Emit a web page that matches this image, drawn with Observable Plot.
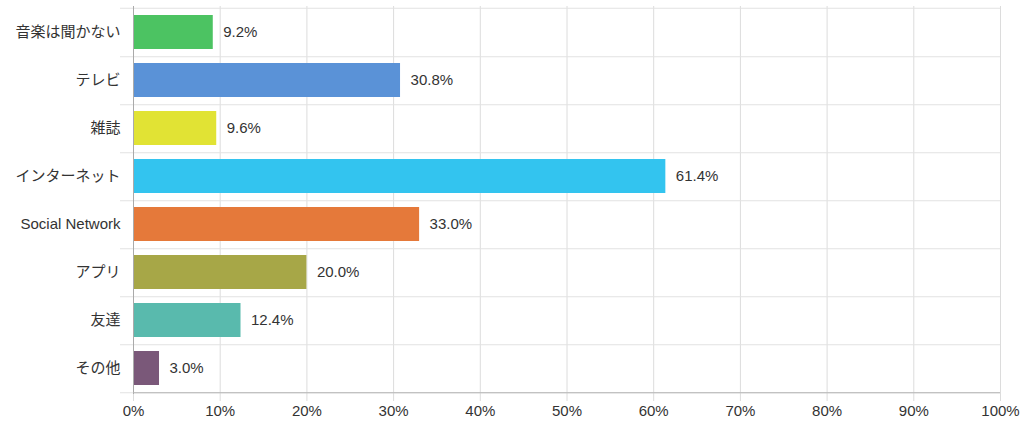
<!DOCTYPE html>
<html>
<head>
<meta charset="utf-8">
<script src="https://cdn.jsdelivr.net/npm/d3@7"></script>
<script src="https://cdn.jsdelivr.net/npm/@observablehq/plot@0.6"></script>
<style>
  html, body { margin: 0; padding: 0; background: #fff; }
  #chart svg { display: block; }
</style>
</head>
<body>
<div id="chart"></div>
<script>
const categories = ["音楽は聞かない", "テレビ", "雑誌", "インターネット", "Social Network", "アプリ", "友達", "その他"];
const values = [9.2, 30.8, 9.6, 61.4, 33.0, 20.0, 12.4, 3.0];
const colors = ["#4cc362", "#5a92d7", "#e1e334", "#33c4ef", "#e5793a", "#a7a747", "#59baad", "#7a5879"];
const xTicks = [0, 10, 20, 30, 40, 50, 60, 70, 80, 90, 100];

const data = categories.map((c, i) => ({category: c, value: values[i], color: colors[i]}));

const W = 1024, H = 427;
const mt = 6, mb = 33;
const step = (H - mt - mb) / categories.length;

const chart = Plot.plot({
  width: W,
  height: H,
  marginLeft: 133,
  marginRight: 24,
  marginTop: mt,
  marginBottom: mb,
  style: {fontFamily: "'Liberation Sans', Arial, 'Noto Sans CJK JP', sans-serif", fontSize: "15px", color: "#333", background: "#fff"},
  x: {domain: [0, 100], ticks: xTicks, tickFormat: d => d + "%", label: null, grid: false},
  y: {domain: categories, paddingInner: 0.3, paddingOuter: 0.15, label: null},
  marks: [
    Plot.ruleX(xTicks, {x: d => d, stroke: "#dcdcdc", strokeWidth: 1}),
    Plot.ruleY(categories, {y: d => d, x1: -1.5, x2: 100, dy: step / 2, stroke: "#e2e2e2"}),
    Plot.ruleY([categories[0]], {y: d => d, x1: -1.5, x2: 100, dy: -step / 2, stroke: "#e2e2e2"}),
    Plot.barX(data, {y: "category", x: "value", fill: "color"}),
    Plot.text(data, {y: "category", x: "value", text: d => d.value.toFixed(1) + "%", dx: 10, textAnchor: "start", fill: "#333", fontSize: 15}),
    Plot.ruleX([0], {stroke: "#aaa"}),
    Plot.ruleY([categories[categories.length - 1]], {y: d => d, x1: 0, x2: 100, dy: step / 2, stroke: "#b5b5b5"}),
    Plot.axisX({ticks: xTicks, tickFormat: d => d + "%", tickSize: 7, tickPadding: 4, stroke: "#dcdcdc", fill: "#333", fontSize: 15, label: null}),
    Plot.axisY({tickSize: 0, tickPadding: 13, fill: "#333", fontSize: 15, label: null})
  ]
});
document.getElementById("chart").appendChild(chart);
</script>
</body>
</html>
